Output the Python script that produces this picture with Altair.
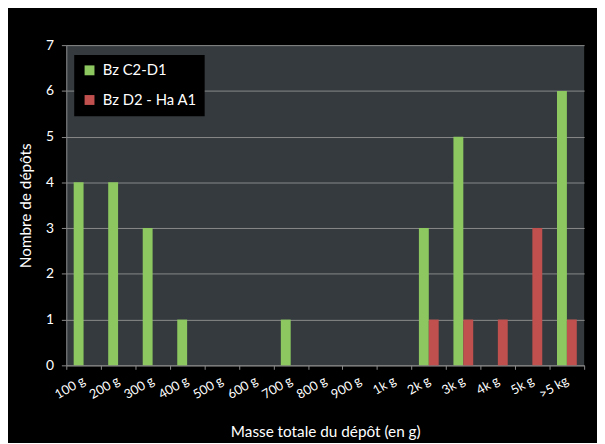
import altair as alt
import pandas as pd

categories = ["100 g", "200 g", "300 g", "400 g", "500 g", "600 g", "700 g", "800 g",
              "900 g", "1k g", "2k g", "3k g", "4k g", "5k g", ">5 kg"]
series_names = ["Bz C2-D1", "Bz D2 - Ha A1"]
values_c2d1 = [4, 4, 3, 1, 0, 0, 1, 0, 0, 0, 3, 5, 0, 0, 6]
values_d2ha = [0, 0, 0, 0, 0, 0, 0, 0, 0, 0, 1, 1, 1, 3, 1]
y_ticks = [0, 1, 2, 3, 4, 5, 6, 7]
colors = ["#8cc85f", "#c0504d"]

rows = []
for c, a, b in zip(categories, values_c2d1, values_d2ha):
    rows.append({"cat": c, "serie": series_names[0], "n": a})
    rows.append({"cat": c, "serie": series_names[1], "n": b})
df = pd.DataFrame(rows)

FONT = "Lato"

chart = alt.Chart(df).mark_bar(width={"band": 1}).encode(
    x=alt.X("cat:N", sort=categories,
            scale=alt.Scale(paddingInner=0, paddingOuter=0),
            axis=alt.Axis(title="Masse totale du dépôt (en g)", labelAngle=-30,
                          labelAlign="right", labelBaseline="middle",
                          tickBand="extent", tickSize=4, tickColor="#8a8a8a",
                          domainColor="#8a8a8a", labelColor="white",
                          labelFontSize=13, labelPadding=10, titleColor="white",
                          titleFontSize=15.5, titleFontWeight="normal",
                          titlePadding=24, labelFont=FONT, titleFont=FONT)),
    xOffset=alt.XOffset("serie:N", sort=series_names,
                        scale=alt.Scale(paddingOuter=0.745, paddingInner=0)),
    y=alt.Y("n:Q", scale=alt.Scale(domain=[0, 7], nice=False),
            axis=alt.Axis(title="Nombre de dépôts", values=y_ticks,
                          grid=True, gridColor="#8a8a8a", labelOverlap=False,
                          tickSize=5, tickColor="#8a8a8a", domainColor="#8a8a8a",
                          labelColor="white", labelFontSize=14, labelPadding=8,
                          titleColor="white", titleFontSize=15.5,
                          titleFontWeight="normal", titlePadding=12,
                          labelFont=FONT, titleFont=FONT)),
    color=alt.Color("serie:N", sort=series_names,
                    scale=alt.Scale(domain=series_names, range=colors),
                    legend=alt.Legend(title=None, orient="none", legendX=8, legendY=10,
                                      fillColor="black", padding=8,
                                      symbolType="square", symbolSize=100,
                                      symbolStrokeWidth=0, rowPadding=14,
                                      labelColor="white", labelFontSize=15,
                                      labelFont=FONT, labelOffset=6)),
).properties(
    width=524, height=324,
    autosize=alt.AutoSizeParams(type="none"),
    padding={"left": 59, "top": 35, "right": 13, "bottom": 76},
    background="black",
).configure_view(
    fill="#343a3e", stroke=None
)

chart.save("out.html", embed_options={"renderer": "svg", "actions": False})
